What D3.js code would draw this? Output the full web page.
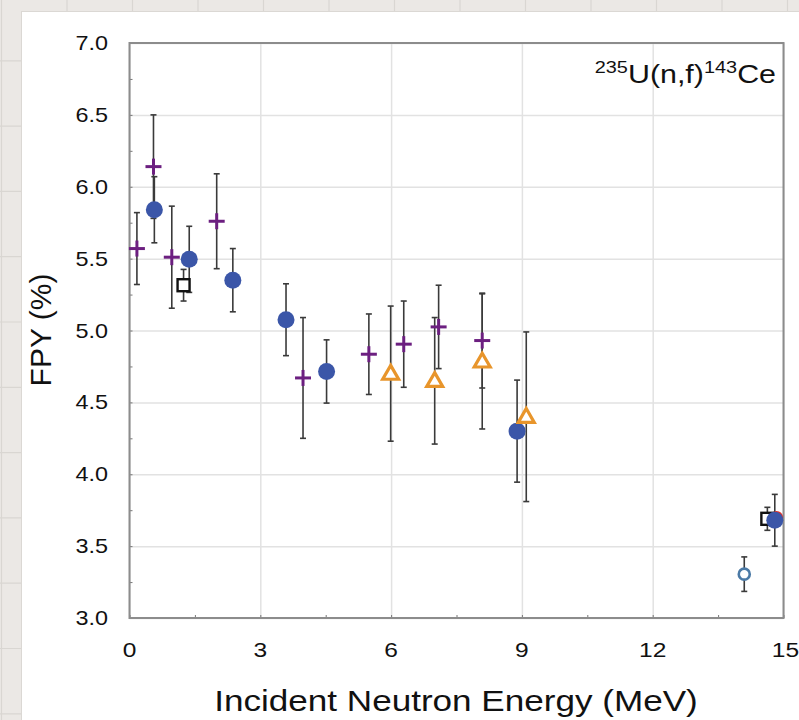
<!DOCTYPE html>
<html><head><meta charset="utf-8">
<script src="https://cdn.jsdelivr.net/npm/d3@7/dist/d3.min.js"></script>
<style>html,body{margin:0;padding:0;background:#fff;}svg{display:block;}</style>
</head><body>
<script>
// ---- data ----
const xTicks = [0, 3, 6, 9, 12, 15];
const yTicks = [3.0, 3.5, 4.0, 4.5, 5.0, 5.5, 6.0, 6.5, 7.0];

const crossE   = [0.17, 0.55, 0.97, 2.0, 3.98, 5.49, 6.29, 7.09, 8.09];
const crossFPY = [5.57, 6.14, 5.51, 5.76, 4.67, 4.835, 4.905, 5.025, 4.93];
const crossErr = [0.25, 0.36, 0.355, 0.33, 0.42, 0.28, 0.30, 0.29, 0.33];

const circE   = [0.57, 1.37, 2.37, 3.59, 4.52, 8.89, 14.8];
const circFPY = [5.84, 5.495, 5.35, 5.075, 4.715, 4.30, 3.68];
const circErr = [0.23, 0.23, 0.22, 0.25, 0.22, 0.355, 0.18];

const triE   = [5.99, 7.0, 8.09, 9.1];
const triFPY = [4.70, 4.65, 4.785, 4.40];
const triErr = [0.47, 0.44, 0.47, 0.59];

const sqE   = [1.24, 14.63];
const sqFPY = [5.315, 3.69];
const sqErr = [0.11, 0.08];

const openE   = [14.1];
const openFPY = [3.305];
const openErr = [0.12];

const redE = [14.84];
const redFPY = [3.7];

const W = 799, H = 720;
const FONT = "'Liberation Sans', Arial, Helvetica, sans-serif";
const SX = 1.17;

const svg = d3.select("body").append("svg").attr("width", W).attr("height", H);

// paper background
svg.append("rect").attr("width", W).attr("height", H).attr("fill", "#ebe8e5");
const paper = svg.append("g").attr("stroke", "#d9d6d2").attr("stroke-width", 1.2);
for (let x = 1.5; x < W; x += 65.5) paper.append("line").attr("x1", x).attr("x2", x).attr("y1", 0).attr("y2", H);
for (let y = -4.5; y < H; y += 65.3) paper.append("line").attr("y1", y).attr("y2", y).attr("x1", 0).attr("x2", W);
svg.append("rect").attr("x", 21).attr("y", 11).attr("width", W).attr("height", H).attr("fill", "#dbd8d4");
svg.append("rect").attr("x", 22).attr("y", 12).attr("width", W).attr("height", H).attr("fill", "#ffffff");

// scales
const x = d3.scaleLinear().domain([0, 15]).range([129.5, 783.5]);
const y = d3.scaleLinear().domain([3, 7]).range([618, 43]);

// grid
const grid = svg.append("g");
grid.append("g").attr("transform", `translate(0,${y(3)})`)
  .call(d3.axisBottom(x).tickValues(xTicks).tickSize(-(y(3) - y(7))).tickFormat(""))
  .call(g => g.select(".domain").remove())
  .call(g => g.selectAll("line").attr("stroke", "#e2e2e2").attr("stroke-width", 1.5));
grid.append("g").attr("transform", `translate(${x(0)},0)`)
  .call(d3.axisLeft(y).tickValues(yTicks).tickSize(-(x(15) - x(0))).tickFormat(""))
  .call(g => g.select(".domain").remove())
  .call(g => g.selectAll("line").attr("stroke", "#e2e2e2").attr("stroke-width", 1.5));

// minor ticks (inward)
const yMinor = d3.range(3, 7.001, 0.25);
svg.append("g").attr("transform", `translate(${x(0)},0)`)
  .call(d3.axisRight(y).tickValues(yMinor).tickSize(3).tickFormat(""))
  .call(g => g.select(".domain").remove())
  .call(g => g.selectAll("line").attr("stroke", "#777").attr("stroke-width", 1));
const xMinor = d3.range(0, 15.001, 1.5);
svg.append("g").attr("transform", `translate(0,${y(3)})`)
  .call(d3.axisTop(x).tickValues(xMinor).tickSize(3).tickFormat(""))
  .call(g => g.select(".domain").remove())
  .call(g => g.selectAll("line").attr("stroke", "#777").attr("stroke-width", 1));

// frame
svg.append("rect").attr("x", x(0)).attr("y", y(7)).attr("width", x(15) - x(0)).attr("height", y(3) - y(7))
  .attr("fill", "none").attr("stroke", "#8c8c8c").attr("stroke-width", 2);

// tick labels
const txt = (g, tx, ty, s, anchor, size) => g.append("text")
  .attr("transform", `translate(${tx},${ty}) scale(${SX},1)`)
  .attr("text-anchor", anchor).attr("font-family", FONT).attr("font-size", size)
  .attr("fill", "#111").text(s);
const labels = svg.append("g");
yTicks.forEach(v => txt(labels, 108, y(v) + 7, d3.format(".1f")(v), "end", 20));
xTicks.forEach(v => txt(labels, x(v) + (v === 15 ? 2 : 0), 657, String(v), "middle", 21));

// axis titles
txt(svg, 456, 711, "Incident Neutron Energy (MeV)", "middle", 30);
svg.append("text").attr("transform", `translate(51,330) rotate(-90)`)
  .attr("text-anchor", "middle").attr("font-family", FONT).attr("font-size", 30)
  .attr("fill", "#111").text("FPY (%)");

// reaction label
const t = svg.append("text").attr("transform", `translate(776,83) scale(${SX},1)`)
  .attr("text-anchor", "end").attr("font-family", FONT).attr("font-size", 26).attr("fill", "#111");
t.append("tspan").attr("font-size", 17).attr("dy", -10).text("235");
t.append("tspan").attr("dy", 10).text("U(n,f)");
t.append("tspan").attr("font-size", 17).attr("dy", -10).text("143");
t.append("tspan").attr("dy", 10).text("Ce");

// error bars
function errBars(E, V, S) {
  const g = svg.append("g").attr("stroke", "#3a3a3a").attr("stroke-width", 1.6);
  E.forEach((e, i) => {
    const cx = x(e), y1 = y(V[i] + S[i]), y2 = y(V[i] - S[i]);
    g.append("line").attr("x1", cx).attr("x2", cx).attr("y1", y1).attr("y2", y2);
    g.append("line").attr("x1", cx - 3).attr("x2", cx + 3).attr("y1", y1).attr("y2", y1);
    g.append("line").attr("x1", cx - 3).attr("x2", cx + 3).attr("y1", y2).attr("y2", y2);
  });
}
errBars(crossE, crossFPY, crossErr);
errBars(circE, circFPY, circErr);
errBars(triE, triFPY, triErr);
errBars(sqE, sqFPY, sqErr);
errBars(openE, openFPY, openErr);

// markers
svg.append("g").selectAll("circle").data(redE).join("circle")
  .attr("cx", (d) => x(d)).attr("cy", (d, i) => y(redFPY[i])).attr("r", 6.5).attr("fill", "#e0302a");

svg.append("g").selectAll("rect").data(sqE).join("rect")
  .attr("x", d => x(d) - 6).attr("y", (d, i) => y(sqFPY[i]) - 6).attr("width", 12).attr("height", 12)
  .attr("fill", "#fff").attr("stroke", "#111").attr("stroke-width", 2.4);

svg.append("g").selectAll("circle").data(circE).join("circle")
  .attr("cx", d => x(d)).attr("cy", (d, i) => y(circFPY[i])).attr("r", 8.5).attr("fill", "#3b56a8");

const cg = svg.append("g").attr("stroke", "#6c1f80").attr("stroke-width", 3);
crossE.forEach((e, i) => {
  const cx = x(e), cy = y(crossFPY[i]);
  cg.append("line").attr("x1", cx - 8).attr("x2", cx + 8).attr("y1", cy).attr("y2", cy);
  cg.append("line").attr("x1", cx).attr("x2", cx).attr("y1", cy - 8).attr("y2", cy + 8);
});

const tri = d3.symbol().type(d3.symbolTriangle).size(110);
svg.append("g").selectAll("path").data(triE).join("path")
  .attr("d", tri).attr("transform", (d, i) => `translate(${x(d)},${y(triFPY[i]) + 1})`)
  .attr("fill", "#fff").attr("stroke", "#e8952b").attr("stroke-width", 3.2);

svg.append("g").selectAll("circle").data(openE).join("circle")
  .attr("cx", d => x(d)).attr("cy", (d, i) => y(openFPY[i])).attr("r", 5.5)
  .attr("fill", "#fff").attr("stroke", "#4b7aa6").attr("stroke-width", 2.6);
</script>
</body></html>
